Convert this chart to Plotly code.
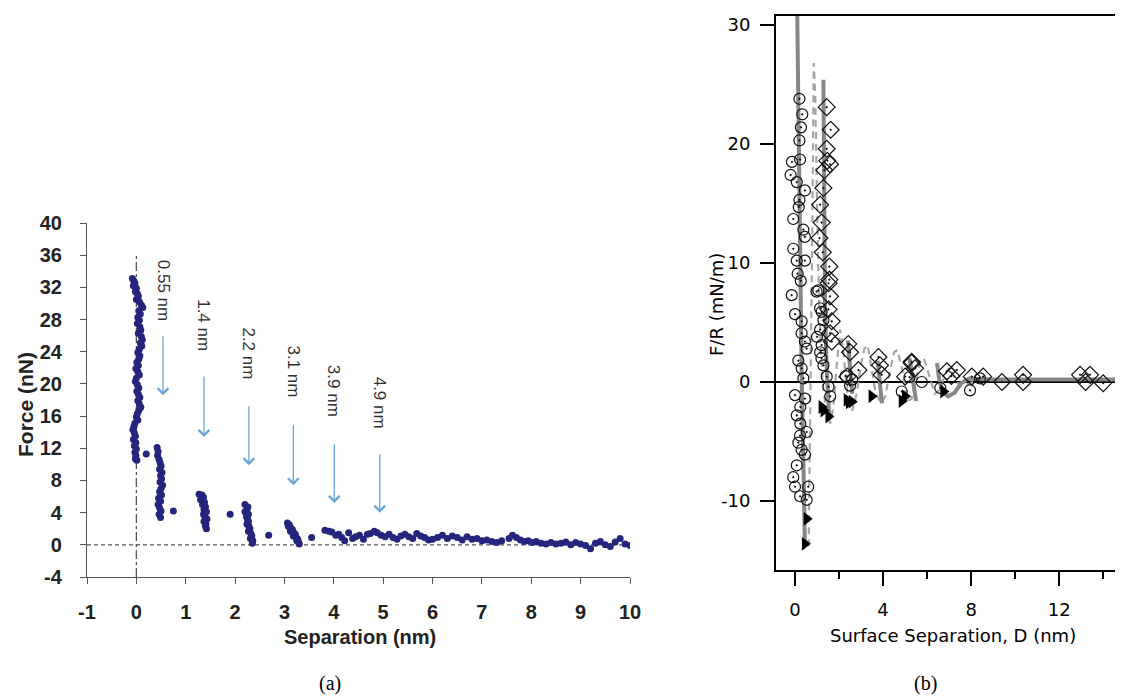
import plotly.graph_objects as go

# page body margin of the browser is 8 px; the figure sits inside it
OFF = 8
W, H = 1123 - OFF, 700 - OFF

# ================= Panel (a): AFM force vs separation =================
sep_col0 = [-0.08, -0.05, -0.03, -0.06, 0.0, -0.02, 0.02, 0.04, 0.0, 0.06,
            0.1, 0.13, 0.05, 0.08, 0.03, 0.06, 0.02, 0.07, 0.09, 0.04,
            0.1, 0.12, 0.08, 0.11, 0.06, 0.03, 0.07, 0.05, 0.01, 0.04,
            -0.01, 0.03, 0.06, 0.0, -0.02, 0.02, 0.05, 0.01, 0.04, 0.07,
            0.03, 0.06, 0.09, 0.05, 0.02, 0.0, 0.03, -0.03, -0.05, -0.07,
            -0.04, -0.02, -0.06, -0.01, -0.04, 0.0, -0.03, -0.01, -0.02, 0.01]
force_col0 = [33.1, 32.8, 32.5, 32.2, 31.9, 31.5, 31.2, 30.9, 30.5, 30.2,
              29.8, 29.5, 29.1, 28.7, 28.3, 27.9, 27.5, 27.1, 26.7, 26.3,
              25.9, 25.5, 25.1, 24.7, 24.3, 23.9, 23.5, 23.1, 22.7, 22.3,
              21.9, 21.5, 21.1, 20.7, 20.3, 19.9, 19.5, 19.1, 18.7, 18.3,
              17.9, 17.5, 17.1, 16.7, 16.3, 15.9, 15.5, 15.1, 14.7, 14.3,
              13.9, 13.5, 13.1, 12.7, 12.3, 11.9, 11.5, 11.1, 10.7, 10.5]

sep_col1 = [0.42, 0.44, 0.43, 0.46, 0.48, 0.5, 0.47, 0.52, 0.49, 0.51, 0.48,
            0.53, 0.5, 0.47, 0.51, 0.45, 0.49, 0.44, 0.47, 0.5, 0.46, 0.49]
force_col1 = [12.1, 11.6, 11.1, 10.6, 10.2, 9.8, 9.4, 9.0, 8.6, 8.2, 7.8,
              7.4, 7.0, 6.6, 6.2, 5.8, 5.4, 5.0, 4.6, 4.2, 3.8, 3.4]

sep_col2 = [1.27, 1.33, 1.36, 1.3, 1.38, 1.34, 1.4, 1.37, 1.42, 1.36, 1.39,
            1.43, 1.37, 1.41, 1.4, 1.42]
force_col2 = [6.3, 6.2, 5.9, 5.6, 5.3, 5.0, 4.7, 4.4, 4.1, 3.8, 3.5,
              3.2, 2.9, 2.6, 2.3, 2.0]

sep_col3 = [2.2, 2.26, 2.24, 2.2, 2.27, 2.23, 2.25, 2.27, 2.24, 2.28, 2.3,
            2.27, 2.32, 2.34, 2.31, 2.36, 2.35]
force_col3 = [5.0, 4.7, 4.4, 4.1, 3.8, 3.5, 3.2, 2.9, 2.6, 2.3, 2.0,
              1.7, 1.4, 1.1, 0.8, 0.5, 0.2]

sep_col4 = [3.06, 3.1, 3.08, 3.13, 3.16, 3.12, 3.19, 3.22, 3.18, 3.24,
            3.27, 3.25, 3.29, 3.3]
force_col4 = [2.7, 2.5, 2.3, 2.1, 1.9, 1.7, 1.5, 1.3, 1.1, 0.9,
              0.7, 0.5, 0.3, 0.1]

sep_isolated = [0.2, 0.75, 1.9, 2.68, 3.55]
force_isolated = [11.3, 4.2, 3.8, 1.2, 0.9]

sep_tail = [3.82, 3.9, 3.96, 4.04, 4.1, 4.16, 4.22, 4.3, 4.38, 4.44,
            4.52, 4.6, 4.68, 4.74, 4.82, 4.88, 4.96, 5.04, 5.12, 5.2,
            5.28, 5.36, 5.44, 5.52, 5.6, 5.68, 5.76, 5.84, 5.92, 6.0,
            6.1, 6.2, 6.3, 6.4, 6.5, 6.6, 6.7, 6.8, 6.9, 7.0,
            7.1, 7.2, 7.3, 7.4, 7.55, 7.62, 7.7, 7.78, 7.86, 7.94,
            8.02, 8.1, 8.2, 8.3, 8.4, 8.5, 8.6, 8.7, 8.8, 8.9,
            9.0, 9.1, 9.2, 9.3, 9.4, 9.5, 9.6, 9.7, 9.8, 9.9, 10.0]
force_tail = [1.8, 1.7, 1.6, 1.2, 1.3, 0.9, 0.5, 1.5, 0.8, 1.0,
              1.2, 0.7, 1.3, 1.4, 1.7, 1.5, 1.2, 1.0, 1.3, 0.9,
              0.7, 1.1, 1.3, 1.0, 0.8, 1.4, 1.1, 0.9, 0.6, 0.7,
              0.9, 1.2, 0.8, 1.1, 0.9, 0.6, 1.0, 0.7, 0.8, 0.5,
              0.6, 0.4, 0.3, 0.5, 0.8, 1.2, 0.9, 0.6, 0.4, 0.5,
              0.3, 0.4, 0.2, 0.1, 0.3, 0.1, 0.2, 0.35, 0.0, 0.3,
              0.1, -0.1, -0.5, 0.2, 0.4, 0.0, -0.2, 0.35, 0.8, 0.1, -0.1]

peak_labels = ["0.55 nm", "1.4 nm", "2.2 nm", "3.1 nm", "3.9 nm", "4.9 nm"]
peak_sep = [0.54, 1.37, 2.28, 3.18, 4.01, 4.93]
peak_label_force = [31.7, 27.3, 23.8, 21.5, 19.1, 17.7]
arrow_start_force = [26.1, 21.1, 17.4, 15.1, 12.7, 11.4]
arrow_end_force = [18.6, 13.4, 9.9, 7.4, 5.2, 4.0]

x_ticks_a = list(range(-1, 11))
x_ticktext_a = ["-1", "0", "1", "2", "3", "4", "5", "6", "7", "8", "9", "10"]
y_ticks_a = list(range(-4, 41, 4))
y_ticktext_a = ["-4", "0", "4", "8", "12", "16", "20", "24", "28", "32", "36", "40"]

# ================= Panel (b): SFA F/R vs D =================
circ_D = [0.20, 0.33, 0.27, 0.20, 0.23, -0.14, -0.20, 0.08, 0.45, 0.20,
          0.17, -0.08, 0.38, 0.45, -0.08, 0.08, 0.45, 0.12, 0.26, -0.15,
          0.0, 0.3, 0.3, 0.45, 0.53, 0.15, 0.3, 0.38, 0.0, 0.45,
          0.24, 0.08, 0.24, 0.23, 0.53, 0.15, 0.3, 0.45, 0.08, -0.08,
          0.0, 0.6, 0.23, 0.53,
          1.06, 0.98, 1.14, 1.21, 1.29, 1.14, 1.21, 1.14, 1.29, 1.44,
          1.52, 1.6, 1.0, 1.2,
          2.3, 2.5, 2.6, 4.85, 5.2, 5.76, 6.6, 7.95, 8.4]
circ_F = [23.8, 22.5, 21.4, 20.3, 18.7, 18.5, 17.4, 16.8, 16.1, 15.3,
          14.7, 13.7, 12.8, 12.2, 11.2, 10.2, 10.2, 9.1, 8.5, 7.3,
          5.7, 5.1, 4.1, 3.4, 2.8, 1.8, 1.15, 0.3, -1.1, -1.4,
          -2.1, -2.8, -3.5, -4.5, -4.2, -5.1, -5.7, -6.1, -7.0, -8.0,
          -8.8, -8.8, -9.6, -9.9,
          7.7, 7.6, 6.2, 5.9, 5.2, 4.4, 3.1, 2.5, 1.4, 0.45,
          -0.4, -1.2, 3.8, 2.0,
          0.5, -0.3, 0.2, -0.8, 0.4, 0.0, -0.5, -0.7, 0.3]

dia_D = [1.44, 1.62, 1.44, 1.47, 1.59, 1.33, 1.29, 1.14, 1.21, 1.11,
         1.26, 1.56, 1.56, 1.52, 1.59, 1.52, 1.67, 1.59, 1.67, 2.42,
         2.5, 2.88, 2.38, 3.79, 3.86, 3.94, 5.3, 5.45, 5.0, 5.3,
         7.35, 8.03, 8.55, 9.4, 10.36, 10.36, 12.95, 13.4, 13.2, 14.0,
         6.9, 7.1]
dia_F = [23.1, 21.2, 19.6, 18.6, 18.3, 17.8, 16.3, 14.9, 13.4, 12.1,
         10.9, 9.7, 8.6, 8.3, 7.2, 6.1, 5.1, 4.1, 3.4, 3.2,
         2.5, 1.0, 0.45, 2.1, 1.4, 0.6, 1.7, 1.15, 0.45, 1.6,
         1.0, 0.45, 0.45, 0.0, 0.6, 0.0, 0.6, 0.6, 0.0, -0.1,
         0.9, 0.5]

tri_D = [1.21, 1.52, 2.35, 2.58, 3.48, 4.85, 5.0, 6.74, 0.53, 0.45, 1.3, 2.45]
tri_F = [-2.1, -2.9, -1.5, -1.65, -1.2, -1.6, -1.2, -0.8, -11.5, -13.6, -2.4, -1.7]

solid_D = [0.1, 0.15, 0.2, 0.25, 0.3, 0.35, 0.4, 0.45, None,
           1.29, 1.32, 1.36, 1.42, 1.48, 1.55, None,
           2.4, 2.5, 2.6, None,
           3.75, 3.85, 3.95, None,
           5.2, 5.35, 5.5, None,
           6.45, 6.55, 6.7, 6.95, 7.25, 7.55, 7.9, 8.3, 9, 10, 11, 12, 13, 14, 15]
solid_F = [31, 22, 14, 7, 1, -4, -9, -13.8, None,
           25.4, 15, 7, 2, -1.5, -3, None,
           3.5, 1, -1, None,
           1.8, 0, -1.8, None,
           2.0, 0, -1.6, None,
           1.6, 0.2, -0.8, -1.2, -0.9, -0.1, 0.3, 0.25, 0.2, 0.2, 0.2, 0.2, 0.2, 0.2, 0.2]

dash_D = [0.62, 0.7, 0.78, 0.85, 0.92, 1.0, 1.1, 1.25, 1.45, 1.6,
          1.75, 1.9, 2.05, 2.2, 2.4, 2.6, 2.8, 3.0, 3.15, 3.3,
          3.45, 3.65, 3.9, 4.1, 4.3, 4.5, 4.65, 4.85, 5.1, 5.3,
          5.5, 5.7, 5.85, 6.05, 6.35, 6.6, 6.8, 7.0, 7.2, 7.5,
          7.8, 8.1]
dash_F = [-13.8, -2, 12, 26.8, 24, 15, 6, 0, -2.8, -3.5,
          -2, 1.5, 4.4, 2.5, -1.5, -2.4, -1, 1.5, 2.8, 3.1,
          1.5, -0.8, -1.8, -1.2, 0.8, 2.5, 2.7, 1.2, -1.6, -1.4,
          0.2, 1.8, 2.0, 0.8, -1.0, -0.6, 0.6, 1.2, 0.6, -0.4,
          -0.2, 0.0]

x_ticks_b = [0, 4, 8, 12]
x_minor_ticks_b = [2, 6, 10, 14]
y_ticks_b = [-10, 0, 10, 20, 30]
y_ticktext_b = ["-10", "0", "10", "20", "30"]


def fx(p):
    return (p - OFF) / W


def fy(p):
    return 1 - (p - OFF) / H


fig = go.Figure()

# ---- panel (a) traces ----
sep_a = sep_col0 + sep_isolated + sep_col1 + sep_col2 + sep_col3 + sep_col4 + sep_tail
force_a = force_col0 + force_isolated + force_col1 + force_col2 + force_col3 + force_col4 + force_tail
fig.add_trace(go.Scatter(x=sep_a, y=force_a, mode="markers", xaxis="x", yaxis="y",
                         marker=dict(size=7, color="#25257e", line=dict(width=0)),
                         showlegend=False, hoverinfo="skip"))

# ---- panel (b) traces ----
fig.add_trace(go.Scatter(x=dash_D, y=dash_F, mode="lines", xaxis="x2", yaxis="y2",
                         line=dict(color="#a6a6a6", width=2.2, dash="7px,5px"),
                         showlegend=False, hoverinfo="skip"))
fig.add_trace(go.Scatter(x=solid_D, y=solid_F, mode="lines", xaxis="x2", yaxis="y2",
                         line=dict(color="#878787", width=4), connectgaps=False,
                         showlegend=False, hoverinfo="skip"))
fig.add_trace(go.Scatter(x=circ_D, y=circ_F, mode="markers", xaxis="x2", yaxis="y2",
                         marker=dict(symbol="circle-open-dot", size=11, color="#111",
                                     line=dict(width=1.2, color="#111")),
                         showlegend=False, hoverinfo="skip"))
fig.add_trace(go.Scatter(x=dia_D, y=dia_F, mode="markers", xaxis="x2", yaxis="y2",
                         marker=dict(symbol="diamond-open-dot", size=13, color="#111",
                                     line=dict(width=1.2, color="#111")),
                         showlegend=False, hoverinfo="skip"))
fig.add_trace(go.Scatter(x=tri_D, y=tri_F, mode="markers", xaxis="x2", yaxis="y2",
                         marker=dict(symbol="triangle-right", size=12, color="#000"),
                         showlegend=False, hoverinfo="skip"))

font_a = "Liberation Sans, Arial, sans-serif"
font_b = "DejaVu Sans, Verdana, sans-serif"

axis_a_common = dict(showline=True, linecolor="#555", linewidth=1.2, ticks="outside",
                     ticklen=6, tickcolor="#555", tickwidth=1.2, showgrid=False,
                     zeroline=False, automargin=False,
                     tickfont=dict(family=font_a, size=20, color="#222", weight="bold"))

axis_b_common = dict(showline=True, linecolor="#000", linewidth=2, ticks="outside",
                     ticklen=14, tickcolor="#000", tickwidth=2, showgrid=False,
                     automargin=False,
                     tickfont=dict(family=font_b, size=18, color="#000"))

fig.update_layout(
    template="none",
    width=W, height=H, autosize=False,
    margin=dict(l=0, r=0, t=0, b=0, pad=0),
    paper_bgcolor="white", plot_bgcolor="white",
    xaxis=dict(domain=[fx(87), fx(630)], range=[-1, 10], tickvals=x_ticks_a,
               ticktext=x_ticktext_a, anchor="y", ticklabelstandoff=11, **axis_a_common),
    yaxis=dict(domain=[fy(577), fy(223)], range=[-4, 40], tickvals=y_ticks_a,
               ticktext=y_ticktext_a, anchor="x", ticklabelstandoff=14, **axis_a_common),
    xaxis2=dict(domain=[fx(776), 1.0], range=[-0.864, 14.9], tickvals=x_ticks_b,
                anchor="y2", mirror=True, zeroline=False, ticklabelstandoff=8,
                minor=dict(ticks="outside", ticklen=7, tickwidth=2, tickcolor="#000",
                           tickvals=x_minor_ticks_b),
                **axis_b_common),
    yaxis2=dict(domain=[fy(570), fy(16)], range=[-15.8, 30.76], tickvals=y_ticks_b,
                ticktext=y_ticktext_b,
                anchor="x2", zeroline=True, zerolinecolor="#000", zerolinewidth=2,
                ticklabelstandoff=6, **axis_b_common),
)

# dashed reference lines at zero in panel (a)
fig.add_shape(type="line", xref="x", yref="y", x0=-1, x1=10, y0=0, y1=0,
              line=dict(color="#555", width=1.3, dash="4px,3px"), layer="below")
fig.add_shape(type="line", xref="x", yref="y", x0=0, x1=0, y0=-4, y1=36,
              line=dict(color="#555", width=1.3, dash="dashdot"), layer="below")

# peak labels and arrows in panel (a)
for lab, xs, yl, y0, y1 in zip(peak_labels, peak_sep, peak_label_force,
                               arrow_start_force, arrow_end_force):
    fig.add_annotation(x=xs, y=yl, xref="x", yref="y", text=lab, showarrow=False,
                       textangle=90, xanchor="center", yanchor="middle",
                       font=dict(family=font_a, size=17, color="#333"))
    fig.add_annotation(x=xs, y=y1, xref="x", yref="y", ax=xs, ay=y0,
                       axref="x", ayref="y", text="", showarrow=True,
                       arrowhead=4, arrowsize=1.6, arrowwidth=1.3, arrowcolor="#6aa5da")


def title(px_x, px_y, text, font, angle=0):
    fig.add_annotation(x=fx(px_x), y=fy(px_y), xref="paper", yref="paper", text=text,
                       textangle=angle, showarrow=False, xanchor="center",
                       yanchor="middle", font=font)


title(26, 405, "Force (nN)", dict(family=font_a, size=21, color="#222", weight="bold"), -90)
title(360, 637, "Separation (nm)", dict(family=font_a, size=20, color="#222", weight="bold"))
title(716, 305, "F/R (mN/m)", dict(family=font_b, size=18, color="#000"), -90)
title(953, 635, "Surface Separation, D (nm)", dict(family=font_b, size=18, color="#000"))
title(330, 683, "(a)", dict(family="Liberation Serif, serif", size=20, color="#000"))
title(925, 683, "(b)", dict(family="Liberation Serif, serif", size=20, color="#000"))

fig.write_html("out.html")
